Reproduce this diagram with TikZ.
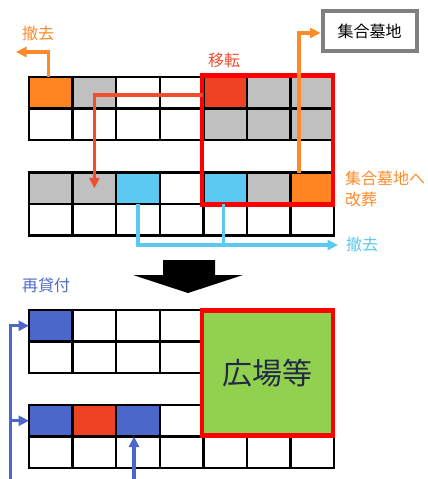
\documentclass[tikz,border=0pt]{standalone}
\usepackage{fontspec}
\setmainfont{Noto Sans CJK JP}
\usetikzlibrary{arrows.meta}
\definecolor{orng}{HTML}{FF8522}
\definecolor{orngl}{HTML}{FF8A2A}
\definecolor{gry}{HTML}{C0C0C0}
\definecolor{redc}{HTML}{EF4124}
\definecolor{redl}{HTML}{F04E2E}
\definecolor{lblue}{HTML}{5BC9F1}
\definecolor{blu}{HTML}{4A67C9}
\definecolor{blul}{HTML}{4F6DCB}
\definecolor{grn}{HTML}{92D050}
\definecolor{grayb}{HTML}{808080}
\definecolor{navy}{HTML}{222B45}
\begin{document}
\begin{tikzpicture}[x=1pt,y=-1pt,
  cell/.style={draw=black, line width=2.4pt, minimum width=43.6pt, minimum height=31.5pt, inner sep=0pt, outer sep=0pt},
  arr/.style={line width=3.2pt, -{Triangle[length=10.5pt,width=10pt]}},
  lab/.style={font=\fontsize{16}{21}\selectfont, inner sep=0pt}]
\useasboundingbox (0,0) rectangle (428,479);
% top grid
\foreach \f [count=\i from 0] in {orng,gry,white,white,redc,gry,gry}
  \node[cell, fill=\f] (a0\i) at ({50.8+43.6*\i},92.75) {};
\foreach \f [count=\i from 0] in {white,white,white,white,gry,gry,gry}
  \node[cell, fill=\f] (a1\i) at ({50.8+43.6*\i},124.25) {};
\foreach \f [count=\i from 0] in {gry,gry,lblue,white,lblue,gry,orng}
  \node[cell, fill=\f] (b0\i) at ({50.8+43.6*\i},188.25) {};
\foreach \f [count=\i from 0] in {white,white,white,white,white,white,white}
  \node[cell, fill=\f] (b1\i) at ({50.8+43.6*\i},219.75) {};
% bottom grid
\foreach \f [count=\i from 0] in {blu,white,white,white}
  \node[cell, fill=\f] (d0\i) at ({50.8+43.6*\i},325.75) {};
\foreach \f [count=\i from 0] in {white,white,white,white}
  \node[cell, fill=\f] (d1\i) at ({50.8+43.6*\i},357.25) {};
\foreach \f [count=\i from 0] in {blu,redc,blu,white}
  \node[cell, fill=\f] (e0\i) at ({50.8+43.6*\i},420.75) {};
\foreach \f [count=\i from 0] in {white,white,white,white,white,white,white}
  \node[cell, fill=\f] (e1\i) at ({50.8+43.6*\i},452.25) {};
% frames
\node[draw=red, line width=4.5pt, minimum width=131pt, minimum height=129pt, inner sep=0pt] (moveframe) at (267.5,140) {};
\node[draw=red, fill=grn, line width=4.5pt, minimum width=131pt, minimum height=125pt, inner sep=0pt,
  font=\fontsize{30}{36}\selectfont, text=navy] (plaza) at (267.5,373) {広場等};
\node[draw=grayb, line width=4pt, minimum width=94pt, minimum height=40pt, inner sep=0pt,
  font=\fontsize{16}{20}\selectfont] (gravebox) at (369.5,31) {集合墓地};
% big arrow
\fill[black] (163,260) -- (215,260) -- (215,275) -- (243,275) -- (188,293) -- (133,275) -- (163,275) -- cycle;
% connectors
\coordinate (orgl) at (16,52);
\draw[arr, color=orngl] ([xshift=-2pt]a00.north) |- (orgl);
\draw[arr, color=redl] ([yshift=-2.25pt]a04.west) -| (b01.center);
\draw[arr, color=orngl] ([xshift=-13.5pt]b06.north) |- ([yshift=-2pt]gravebox.west);
\coordinate (lbend) at (338,245);
\draw[arr, color=lblue] (b02.south) |- (lbend);
\draw[line width=3.2pt, color=lblue] ([xshift=-2pt]b04.south) -- ([xshift=-2pt]b04.south |- lbend);
\coordinate (bbot) at (10.5,482);
\draw[arr, color=blu] (bbot) |- (d00.west);
\draw[arr, color=blu] (bbot |- e00.west) -- (e00.west);
\coordinate (bbot2) at ([xshift=-4pt]e02.south |- bbot);
\draw[arr, color=blu] (bbot2) -- ([xshift=-4pt]e02.south);
% labels
\node[lab, text=orngl] (lrem1) at (38,33) {撤去};
\node[lab, text=redl] (lmove) at (224,60) {移転};
\node[lab, text=orngl, align=left, anchor=west] (lrebur) at (345,189) {集合墓地へ\\改葬};
\node[lab, text=lblue] (lrem2) at (362,244) {撤去};
\node[lab, text=blul] (lrelend) at (46,285) {再貸付};
\end{tikzpicture}
\end{document}
